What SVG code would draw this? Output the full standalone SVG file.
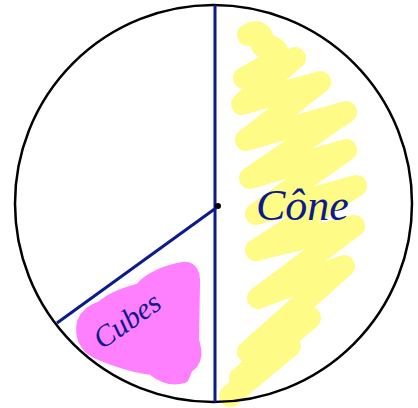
<svg xmlns="http://www.w3.org/2000/svg" width="418" height="408" viewBox="0 0 418 408">
<style>
.ink{fill:#0b1a8c;font-family:"Liberation Serif","DejaVu Serif",serif;font-style:italic}
.edge{stroke:#0b1a8c;stroke-width:3;fill:none}
</style>
<rect width="418" height="408" fill="#ffffff"/>
<g id="highlights">
<path d="M248,35 C258,28 266,36 262,46 C274,44 282,52 276,60 L244,78 L295,58 L242,104 L320,82 L246,140 L346,112 L250,178 L346,150 L256,214 L356,186 L256,250 L354,226 L258,298 L344,266 L248,352 L310,318 L240,378 L290,346 L230,396" fill="none" stroke="#fffb87" stroke-width="22" stroke-linecap="round" stroke-linejoin="round"/>
<path d="M178,268 C190,264 196,270 195,285 L194,340 C198,352 198,362 188,368 L184,378 C172,382 162,378 152,370 C132,368 112,360 97,354 C84,348 79,336 82,322 C86,312 94,308 101,306 C112,296 126,292 140,288 C146,280 160,272 178,268 Z" fill="#ff80ff" stroke="#ff80ff" stroke-width="10" stroke-linejoin="round"/>
</g>
<g id="circle">
<circle cx="213.5" cy="203.5" r="198.5" fill="none" stroke="#000000" stroke-width="2.5"/>
</g>
<g id="connectors">
<line class="edge" x1="215" y1="5" x2="215" y2="402"/>
<line class="edge" x1="216" y1="208" x2="57" y2="323"/>
<circle cx="218" cy="206" r="3" fill="#000000"/>
</g>
<g id="cone">
<text class="ink" x="256" y="220" font-size="44">Cône</text>
</g>
<g id="cubes">
<text class="ink" x="102" y="350" font-size="30" transform="rotate(-35 102 350)">Cubes</text>
</g>
</svg>
